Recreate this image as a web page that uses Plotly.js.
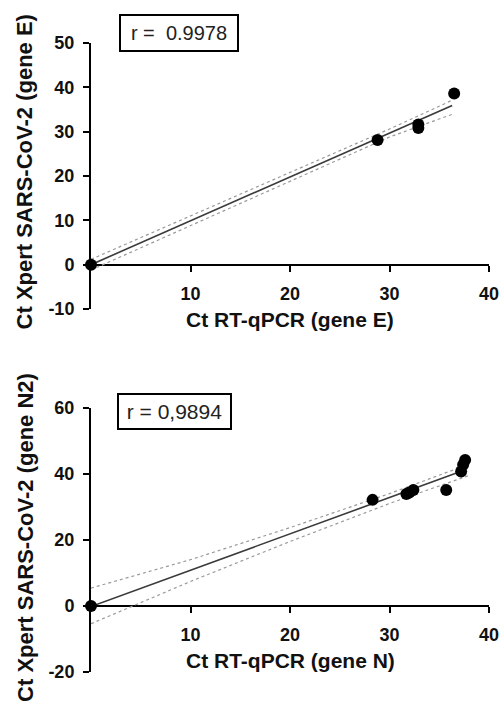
<!DOCTYPE html>
<html>
<head>
<meta charset="utf-8">
<script src="https://cdn.plot.ly/plotly-3.0.1.min.js"></script>
<style>html,body{margin:0;padding:0;background:#fff;}#chart{width:501px;height:704px;}</style>
</head>
<body>
<div id="chart"></div>
<script>
// ---- Panel 1: gene E ----
const geneE_x = [0, 28.8, 32.9, 32.9, 36.5];
const geneE_y = [0, 28.1, 31.6, 30.8, 38.6];
const fitE_x = [0, 36.3];
const fitE_y = [0.0, 35.9];
const bandE_x = [0, 10, 20, 30, 36.4];
const bandE_upper = [1.2, 11.0, 20.7, 30.6, 37.2];
const bandE_lower = [-1.2, 8.8, 18.9, 28.8, 34.0];
const rE_label = 'r =  0.9978';

// ---- Panel 2: gene N / N2 ----
const geneN_x = [0, 28.3, 31.7, 32.0, 32.4, 35.7, 37.2, 37.4, 37.6];
const geneN_y = [0, 32.1, 33.9, 34.3, 35.1, 35.1, 40.7, 42.7, 44.2];
const fitN_x = [0, 36.8];
const fitN_y = [-0.2, 40.3];
const bandN_x = [0, 10, 20, 30, 37.9];
const bandN_upper = [5.4, 14.0, 23.7, 34.0, 42.8];
const bandN_lower = [-5.4, 7.4, 19.5, 31.0, 39.4];
const rN_label = 'r = 0,9894';

const xTicks = [10, 20, 30, 40];
const yTicksE = [-10, 0, 10, 20, 30, 40, 50];
const yTicksN = [-20, 0, 20, 40, 60];

const xTitleE = 'Ct RT-qPCR (gene E)';
const xTitleN = 'Ct RT-qPCR (gene N)';
const yTitleE = 'Ct Xpert SARS-CoV-2 (gene E)';
const yTitleN = 'Ct Xpert SARS-CoV-2 (gene N2)';

const FONT = 'Liberation Sans, Arial, sans-serif';
const bandStyle = {color: '#9a9a9a', width: 1.2, dash: 'dot'};
const fitStyle = {color: '#3a3a3a', width: 1.6};
const bold = v => '<b>' + v + '</b>';

function traces(xa, ya, px, py, fx, fy, bx, bu, bl) {
  return [
    {x: bx, y: bu, xaxis: xa, yaxis: ya, mode: 'lines', line: bandStyle, hoverinfo: 'skip'},
    {x: bx, y: bl, xaxis: xa, yaxis: ya, mode: 'lines', line: bandStyle, hoverinfo: 'skip'},
    {x: fx, y: fy, xaxis: xa, yaxis: ya, mode: 'lines', line: fitStyle, hoverinfo: 'skip'},
    {x: px, y: py, xaxis: xa, yaxis: ya, mode: 'markers', cliponaxis: false,
     marker: {color: '#000', size: 12}}
  ];
}

const data = [
  ...traces('x', 'y', geneE_x, geneE_y, fitE_x, fitE_y, bandE_x, bandE_upper, bandE_lower),
  ...traces('x2', 'y2', geneN_x, geneN_y, fitN_x, fitN_y, bandN_x, bandN_upper, bandN_lower)
];

function axis(extra) {
  return Object.assign({
    showline: true, linecolor: '#000', linewidth: 2,
    ticks: 'outside', ticklen: 6, tickwidth: 2, tickcolor: '#000',
    showgrid: false, zeroline: false, layer: 'below traces',
    tickmode: 'array',
    tickfont: {family: FONT, size: 18, color: '#111'},
    fixedrange: true
  }, extra);
}

const layout = {
  width: 501, height: 704,
  margin: {l: 91, r: 12, t: 43, b: 32},
  paper_bgcolor: '#fff', plot_bgcolor: '#fff',
  showlegend: false,
  xaxis: axis({range: [0, 40], tickvals: xTicks, ticktext: xTicks.map(bold), domain: [0, 1],
    anchor: 'free', position: 0.6471, ticklabelstandoff: 6}),
  yaxis: axis({range: [-10, 50], tickvals: yTicksE, ticktext: yTicksE.map(bold),
    domain: [0.5771, 1], anchor: 'x', ticklabelstandoff: 5}),
  xaxis2: axis({range: [0, 40], tickvals: xTicks, ticktext: xTicks.map(bold), domain: [0, 1],
    anchor: 'free', position: 0.1049, ticklabelstandoff: 6}),
  yaxis2: axis({range: [-20, 60], tickvals: yTicksN, ticktext: yTicksN.map(bold),
    domain: [0, 0.4202], anchor: 'x2', ticklabelstandoff: 5}),
  annotations: [
    {text: rE_label, xref: 'paper', yref: 'paper', x: 0.2211, y: 1.0159, showarrow: false,
     font: {family: FONT, size: 20, color: '#222'}, bordercolor: '#000', borderwidth: 2,
     borderpad: 6, bgcolor: '#fff', xanchor: 'center', yanchor: 'middle', width: 104},
    {text: rN_label, xref: 'paper', yref: 'paper', x: 0.2098, y: 0.4134, showarrow: false,
     font: {family: FONT, size: 21, color: '#222'}, bordercolor: '#000', borderwidth: 2,
     borderpad: 5, bgcolor: '#fff', xanchor: 'center', yanchor: 'middle', width: 101},
    {text: bold(xTitleE), xref: 'paper', yref: 'paper', x: 0.5, y: 0.561, showarrow: false,
     font: {family: FONT, size: 21, color: '#111'}, xanchor: 'center', yanchor: 'middle'},
    {text: bold(xTitleN), xref: 'paper', yref: 'paper', x: 0.5, y: 0.0175, showarrow: false,
     font: {family: FONT, size: 21, color: '#111'}, xanchor: 'center', yanchor: 'middle'},
    {text: bold(yTitleE), xref: 'paper', yref: 'paper', x: -0.166, y: 0.7957, showarrow: false, textangle: -90,
     font: {family: FONT, size: 22, color: '#111'}, xanchor: 'center', yanchor: 'middle'},
    {text: bold(yTitleN), xref: 'paper', yref: 'paper', x: -0.166, y: 0.2146, showarrow: false, textangle: -90,
     font: {family: FONT, size: 22, color: '#111'}, xanchor: 'center', yanchor: 'middle'}
  ]
};

Plotly.newPlot('chart', data, layout, {displayModeBar: false, staticPlot: true});
</script>
</body>
</html>
